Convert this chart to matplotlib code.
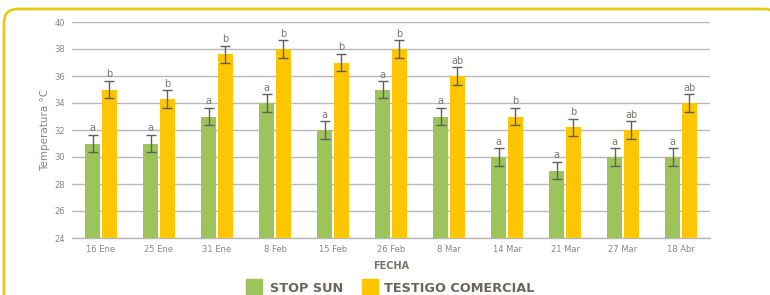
import matplotlib
matplotlib.use("Agg")
import matplotlib.pyplot as plt
import numpy as np
from matplotlib.patches import FancyBboxPatch, Rectangle

fechas = ["16 Ene", "25 Ene", "31 Ene", "8 Feb", "15 Feb", "26 Feb", "8 Mar",
          "14 Mar", "21 Mar", "27 Mar", "18 Abr"]
stop_sun = [31, 31, 33, 34, 32, 35, 33, 30, 29, 30, 30]
stop_sun_err = [0.65, 0.65, 0.65, 0.65, 0.65, 0.6, 0.65, 0.65, 0.65, 0.65, 0.65]
testigo = [35, 34.3, 37.6, 38, 37, 38, 36, 33, 32.2, 32, 34]
testigo_err = [0.65, 0.65, 0.65, 0.65, 0.65, 0.65, 0.65, 0.65, 0.65, 0.65, 0.65]
letras_ss = ["a"] * 11
letras_tc = ["b", "b", "b", "b", "b", "b", "ab", "b", "b", "ab", "ab"]

verde = "#9dc45a"
amarillo = "#fdc600"
gris_txt = "#8a8483"
gris_oscuro = "#6d6461"

plt.rcParams['font.family'] = ['DejaVu Sans']
fig = plt.figure(figsize=(7.7, 2.95), dpi=100)

# capa de fondo en pixeles para el marco y la leyenda
bg = fig.add_axes([0, 0, 1, 1])
bg.set_xlim(0, 770)
bg.set_ylim(295, 0)
bg.axis("off")
bg.add_patch(FancyBboxPatch((4, 9), 774, 320,
                            boxstyle="round,pad=0,rounding_size=14",
                            fill=False, edgecolor="#e3cc12", linewidth=2))
bg.add_patch(Rectangle((246, 279), 16, 17, color=verde))
bg.text(270, 288, "STOP SUN", fontsize=9.3, fontweight="bold",
        color=gris_oscuro, va="center")
bg.add_patch(Rectangle((362, 279), 16, 17, color=amarillo))
bg.text(384, 288, "TESTIGO COMERCIAL", fontsize=9.3, fontweight="bold",
        color=gris_oscuro, va="center")

ax = fig.add_axes([72 / 770, 1 - 238 / 295, 638 / 770, 216 / 295])
ax.patch.set_alpha(0)
x = np.arange(len(fechas))
w = 0.25
off = 0.145
ax.bar(x - off, stop_sun, w, color=verde, zorder=3)
ax.bar(x + off, testigo, w, color=amarillo, zorder=3)
ax.errorbar(x - off, stop_sun, yerr=stop_sun_err, fmt="none", ecolor="#5f5f5f",
            elinewidth=1, capsize=3.5, capthick=1, zorder=4)
ax.errorbar(x + off, testigo, yerr=testigo_err, fmt="none", ecolor="#5f5f5f",
            elinewidth=1, capsize=3.5, capthick=1, zorder=4)

for i in range(len(fechas)):
    ax.text(x[i] - off, stop_sun[i] + stop_sun_err[i] + 0.1, letras_ss[i],
            ha="center", va="bottom", fontsize=7, color="#7a7573", zorder=5)
    ax.text(x[i] + off, testigo[i] + testigo_err[i] + 0.1, letras_tc[i],
            ha="center", va="bottom", fontsize=7, color="#7a7573", zorder=5)

ax.set_xlim(-0.5, len(fechas) - 0.5)
ax.set_ylim(24, 40)
ax.set_yticks(range(24, 41, 2))
ax.set_xticks(x)
ax.set_xticklabels(fechas)
ax.tick_params(axis="both", length=0, labelsize=6, colors=gris_txt)
ax.tick_params(axis="y", pad=5)
ax.tick_params(axis="x", pad=5)
ax.grid(axis="y", color="#b8b8b8", linewidth=1, zorder=0)
for s in ["top", "right", "left"]:
    ax.spines[s].set_visible(False)
ax.spines["bottom"].set_color("#b8b8b8")
ax.spines["bottom"].set_linewidth(1)
ax.set_ylabel("Temperatura °C", fontsize=7.5, color=gris_txt, labelpad=3)
ax.set_xlabel("FECHA", fontsize=7, fontweight="bold", color="#7a7270", labelpad=5)

fig.savefig("out.png", dpi=100)
